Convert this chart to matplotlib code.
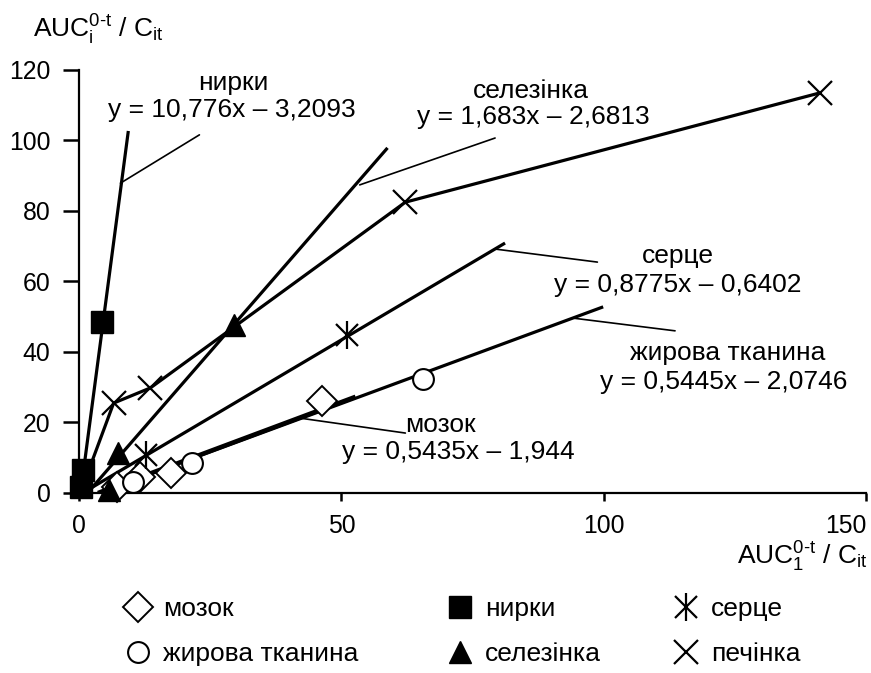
import matplotlib
matplotlib.use('Agg')
import numpy as np
import matplotlib.pyplot as plt
from matplotlib.legend_handler import HandlerTuple

plt.rcParams['font.family'] = ['Liberation Sans', 'DejaVu Sans']
plt.rcParams['mathtext.fontset'] = 'custom'
plt.rcParams['mathtext.rm'] = 'Liberation Sans'
plt.rcParams['mathtext.it'] = 'Liberation Sans'

# measured points (AUC_1 / C_it, AUC_i / C_it)
brain_x = [7.3, 11.7, 17.6, 46.4]
brain_y = [1.7, 4.5, 5.7, 26.1]
fat_x = [10.2, 21.6, 65.6]
fat_y = [3.1, 8.5, 32.3]
kidney_x = [0.3, 0.7, 4.3]
kidney_y = [1.7, 6.5, 48.5]
spleen_x = [5.7, 7.5, 29.6]
spleen_y = [0.8, 11.3, 47.7]
heart_x = [12.7, 51.1]
heart_y = [10.8, 44.8]
liver_x = [0.5, 6.6, 13.6, 62.2, 141.2]
liver_y = [1.0, 25.5, 29.8, 82.5, 113.5]

# fitted lines, end points
kidney_fit_x = [0.3, 9.4]
kidney_fit_y = [0.0, 102.7]
spleen_fit_x = [1.6, 58.8]
spleen_fit_y = [0.0, 97.9]
heart_fit_x = [0.7, 81.2]
heart_fit_y = [0.0, 70.9]
fat_fit_x = [3.8, 99.9]
fat_fit_y = [0.0, 52.8]
brain_fit_x = [3.6, 52.7]
brain_fit_y = [0.0, 27.3]

labels = ['мозок', 'жирова тканина', 'нирки', 'селезінка', 'серце', 'печінка']
equations = ['y = 0,5435x – 1,944', 'y = 0,5445x – 2,0746', 'y = 10,776x – 3,2093',
             'y = 1,683x – 2,6813', 'y = 0,8775x – 0,6402']

fig = plt.figure(figsize=(8.71, 6.73), dpi=100)
ax = fig.add_axes([0.0907, 0.2675, 0.9036, 0.6285])

lw = 2.3
k = dict(color='black', lw=lw, solid_capstyle='butt')
ax.plot(kidney_fit_x, kidney_fit_y, **k)
ax.plot(spleen_fit_x, spleen_fit_y, **k)
ax.plot(heart_fit_x, heart_fit_y, **k)
ax.plot(fat_fit_x, fat_fit_y, **k)
ax.plot(brain_fit_x, brain_fit_y, color='black', lw=3.2, solid_capstyle='butt')
ax.plot(liver_x, liver_y, **k)

mk = dict(ls='none', color='black', clip_on=False, zorder=5)
h_brain, = ax.plot(brain_x, brain_y, marker='D', ms=15, mfc='white', mec='black', mew=1.4, **mk)
h_fat, = ax.plot(fat_x, fat_y, marker='o', ms=15, mfc='white', mec='black', mew=1.5, **mk)
h_kid, = ax.plot(kidney_x, kidney_y, marker='s', ms=16, mfc='black', mec='black', **mk)
h_spl, = ax.plot(spleen_x, spleen_y, marker='^', ms=16, mfc='black', mec='black', **mk)
h_hx, = ax.plot(heart_x, heart_y, marker='x', ms=16, mew=1.6, **mk)
h_hv, = ax.plot(heart_x, heart_y, marker='|', ms=20, mew=1.6, **mk)
h_liv, = ax.plot(liver_x[1:], liver_y[1:], marker='x', ms=17, mew=1.6, **mk)

# labels with leader lines
fs = 19
lead = dict(arrowstyle='-', color='black', lw=1.2, shrinkA=0, shrinkB=0)
ax.annotate('', xy=(7.9, 87.9), xytext=(22.95, 101.6), arrowprops=lead)
ax.text(29.4, 116.3, labels[2], ha='center', va='center', fontsize=fs)
ax.text(29.2, 108.7, equations[2], ha='center', va='center', fontsize=fs)

ax.annotate('', xy=(53.5, 87.4), xytext=(79.3, 100.7), arrowprops=lead)
ax.text(86.2, 114.0, labels[3], ha='center', va='center', fontsize=fs)
ax.text(86.6, 106.7, equations[3], ha='center', va='center', fontsize=fs)

ax.annotate('', xy=(79.3, 69.2), xytext=(98.8, 65.5), arrowprops=lead)
ax.text(114.2, 67.2, labels[4], ha='center', va='center', fontsize=fs)
ax.text(114.2, 59.0, equations[4], ha='center', va='center', fontsize=fs)

ax.annotate('', xy=(94.2, 49.6), xytext=(113.6, 46.0), arrowprops=lead)
ax.text(123.7, 39.7, labels[1], ha='center', va='center', fontsize=fs)
ax.text(122.8, 31.5, equations[1], ha='center', va='center', fontsize=fs)

ax.annotate('', xy=(41.8, 21.3), xytext=(62.2, 17.0), arrowprops=lead)
ax.text(68.9, 19.3, labels[0], ha='center', va='center', fontsize=fs)
ax.text(72.3, 11.6, equations[0], ha='center', va='center', fontsize=fs)

ax.set_xlim(0, 150)
ax.set_ylim(0, 120)
ax.set_xticks([0, 50, 100, 150])
ax.set_yticks([0, 20, 40, 60, 80, 100, 120])
for s in ['top', 'right']:
    ax.spines[s].set_visible(False)
for s in ['left', 'bottom']:
    ax.spines[s].set_linewidth(1.6)
ax.tick_params(axis='y', length=11.5, width=1.8, pad=9, labelsize=17.8)
ax.tick_params(axis='x', length=5.8, width=1.8, pad=9, labelsize=17.8)
ax.get_xticklabels()[-1].set_horizontalalignment('right')

fig.text(33 / 871, 1 - 38 / 673, r'AUC$_\mathrm{i}^\text{0-t}$ / C$_\mathrm{it}$',
         ha='left', va='baseline', fontsize=19)
fig.text(868 / 871, 1 - 565 / 673, r'AUC$_\mathrm{1}^\text{0-t}$ / C$_\mathrm{it}$',
         ha='right', va='baseline', fontsize=19)

# legend, one block per column
cols = [([h_brain, h_fat], labels[0:2], 125),
        ([h_kid, h_spl], labels[2:4], 447),
        ([(h_hx, h_hv), h_liv], labels[4:6], 673)]
for hs, ls, px in cols:
    leg = fig.legend(hs, ls, loc='center left', bbox_to_anchor=(px / 871, 1 - 631.5 / 673),
                     frameon=False, fontsize=19, borderpad=0, handlelength=0.95,
                     handletextpad=0.48, labelspacing=0.78, borderaxespad=0,
                     handler_map={tuple: HandlerTuple(ndivide=1)})

fig.savefig('out.png', dpi=100)
